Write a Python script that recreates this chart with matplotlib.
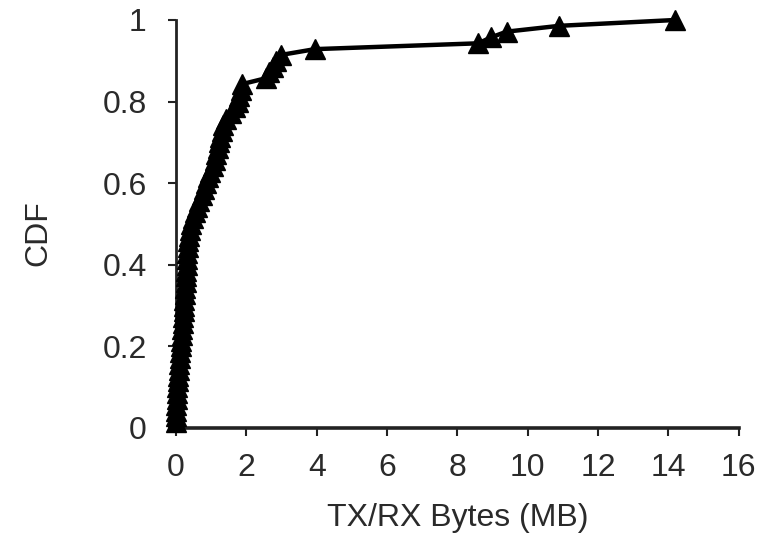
import matplotlib
matplotlib.use("Agg")
import matplotlib.pyplot as plt

# CDF of TX/RX bytes per session (MB)
tx_rx_mb = [
    0.00, 0.00, 0.01, 0.01, 0.02, 0.03, 0.04, 0.05, 0.06, 0.08,
    0.09, 0.11, 0.12, 0.14, 0.15, 0.17, 0.18, 0.19, 0.21, 0.22,
    0.23, 0.24, 0.25, 0.26, 0.27, 0.28, 0.29, 0.30, 0.31, 0.32,
    0.34, 0.35, 0.37, 0.39, 0.42, 0.47, 0.53, 0.59, 0.66, 0.75,
    0.80, 0.86, 0.92, 0.98, 1.04, 1.10, 1.14, 1.18, 1.22, 1.26,
    1.30, 1.34, 1.42, 1.55, 1.68, 1.75, 1.80, 1.84, 1.88, 2.55,
    2.65, 2.75, 2.85, 2.98, 3.95, 8.60, 8.95, 9.40, 10.90, 14.20,
]
n = len(tx_rx_mb)
cdf = [(i + 1) / n for i in range(n)]

x_ticks = [0, 2, 4, 6, 8, 10, 12, 14, 16]
y_ticks = [0, 0.2, 0.4, 0.6, 0.8, 1]
y_tick_labels = ["0", "0.2", "0.4", "0.6", "0.8", "1"]

plt.rcParams['font.family'] = ['Liberation Sans', 'DejaVu Sans']

fig = plt.figure(figsize=(7.6, 5.33), dpi=100)
ax = fig.add_axes([0.2316, 0.197, 0.7404, 0.7655])

ax.plot(tx_rx_mb, cdf, color='black', linewidth=3.2, marker='^',
        markersize=14, markerfacecolor='black', markeredgecolor='black',
        clip_on=False, zorder=3)

ax.set_xlim(0, 16)
ax.set_ylim(0, 1)
ax.set_xticks(x_ticks)
ax.set_xticklabels([str(t) for t in x_ticks])
ax.set_yticks(y_ticks)
ax.set_yticklabels(y_tick_labels)

for s in ['top', 'right']:
    ax.spines[s].set_visible(False)
ax.spines['left'].set_linewidth(2.0)
ax.spines['bottom'].set_linewidth(2.6)
ax.spines['left'].set_color('#222222')
ax.spines['bottom'].set_color('#222222')

ax.tick_params(axis='both', direction='out', length=6, width=1.5,
               labelsize=23, colors='#222222', labelcolor='#2a2a2a')
ax.tick_params(axis='x', pad=12)
ax.tick_params(axis='y', pad=15)

ax.set_xlabel('TX/RX Bytes (MB)', fontsize=23, color='#2a2a2a')
ax.set_ylabel('CDF', fontsize=23, color='#2a2a2a')
ax.xaxis.set_label_coords(0.5, -0.184)
ax.yaxis.set_label_coords(-0.218, 0.477)

fig.savefig('out.png', dpi=100)
